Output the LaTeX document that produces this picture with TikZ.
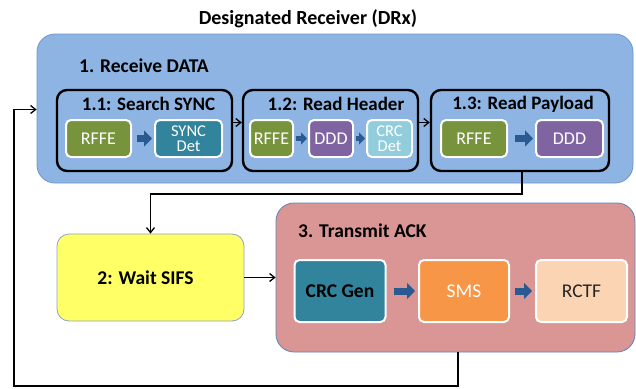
\documentclass[tikz,border=0pt]{standalone}
\usepackage{fontspec}
\setmainfont{Carlito}
\usetikzlibrary{arrows.meta,shadows}
\definecolor{rxblue}{HTML}{8DB4E2}
\definecolor{rxborder}{HTML}{6F95C8}
\definecolor{ackred}{HTML}{D99694}
\definecolor{ackborder}{HTML}{5B83BA}
\definecolor{waity}{HTML}{FFFF66}
\definecolor{waitborder}{HTML}{8EA2C0}
\definecolor{cgreen}{HTML}{77933C}
\definecolor{cteal}{HTML}{31849B}
\definecolor{cpurple}{HTML}{8064A2}
\definecolor{clight}{HTML}{92CDDC}
\definecolor{corange}{HTML}{F79646}
\definecolor{cpeach}{HTML}{FBD4B4}
\definecolor{arrblue}{HTML}{2A5A91}
\begin{document}
\begin{tikzpicture}[x=1pt,y=-1pt,
  bigbox/.style={rounded corners=18pt, line width=0.8pt, inner sep=0pt},
  subbox/.style={draw=black, line width=2.4pt, rounded corners=10pt, inner sep=0pt},
  blk/.style={draw=white, line width=2pt, rounded corners=5pt, inner sep=0pt,
    text=white, font=\fontsize{18}{18}\selectfont, align=center,
    drop shadow={shadow xshift=1pt, shadow yshift=-1pt, opacity=0.3}},
  big/.style={blk, font=\fontsize{19.5}{20}\selectfont},
  arr/.style={-{Straight Barb[length=5pt,width=8pt]}, line width=1.3pt},
  barr/.style={arrblue, line width=7pt, -{Triangle[length=8pt,width=16pt]}},
  lbl/.style={font=\bfseries\fontsize{19}{19}\selectfont, inner sep=0pt}
]
\useasboundingbox (0,0) rectangle (636,388);
\node[font=\bfseries\fontsize{20}{20}\selectfont, inner sep=0pt] (title) at (308,19) {Designated Receiver (DRx)};

% Receive DATA
\node[bigbox, draw=rxborder, fill=rxblue, minimum width=596pt, minimum height=149pt] (rx) at (335,108.5) {};
\node[lbl, anchor=west, font=\bfseries\fontsize{19.5}{19}\selectfont] (rxl) at (79,66) {1. Receive DATA};

\node[subbox, minimum width=175pt, minimum height=81pt] (p11) at (144.5,130.5) {};
\node[subbox, minimum width=175pt, minimum height=81pt] (p12) at (330.5,130.5) {};
\node[subbox, minimum width=178pt, minimum height=81pt] (p13) at (520,130.5) {};
\node[lbl] (l11) at (148.5,104) {1.1: Search SYNC};
\node[lbl] (l12) at (336,104) {1.2: Read Header};
\node[lbl] (l13) at (523,104) {1.3: Read Payload};

\node[blk, fill=cgreen, minimum width=65pt, minimum height=37pt] (r11) at (98.5,138.5) {RFFE};
\node[blk, fill=cteal, minimum width=67pt, minimum height=37pt, font=\fontsize{16.5}{15}\selectfont] (s11) at (188.5,138.5) {SYNC\\Det};
\node[blk, fill=cgreen, minimum width=43pt, minimum height=37pt] (r12) at (271.5,138.5) {RFFE};
\node[blk, fill=cpurple, minimum width=44pt, minimum height=37pt] (d12) at (331,138.5) {DDD};
\node[blk, fill=clight, minimum width=45pt, minimum height=37pt, font=\fontsize{16.5}{15}\selectfont] (c12) at (389.5,138.5) {CRC\\Det};
\node[blk, fill=cgreen, minimum width=66pt, minimum height=37pt] (r13) at (474,138.5) {RFFE};
\node[blk, fill=cpurple, minimum width=67pt, minimum height=37pt] (d13) at (569.5,138.5) {DDD};

\draw[barr] ([xshift=5pt]r11.east) -- ([xshift=-2pt]s11.west);
\draw[barr, line width=5pt, -{Triangle[length=6pt,width=12pt]}] ([xshift=2pt]r12.east) -- ([xshift=-1pt]d12.west);
\draw[barr, line width=5pt, -{Triangle[length=6pt,width=12pt]}] ([xshift=2pt]d12.east) -- ([xshift=-1pt]c12.west);
\draw[barr] ([xshift=7pt]r13.east) -- ([xshift=-2pt]d13.west);

\draw[arr] ([yshift=8pt]p11.east) -- ([yshift=8pt]p12.west);
\draw[arr] ([yshift=8pt]p12.east) -- ([yshift=8pt]p13.west);

% Wait SIFS
\node[draw=waitborder, fill=waity, line width=0.8pt, rounded corners=12pt, minimum width=187pt, minimum height=87pt, inner sep=0pt] (wait) at (150.5,277.5) {};
\node[lbl, font=\bfseries\fontsize{19.5}{19}\selectfont] (waitl) at (145.5,278) {2: Wait SIFS};

% Transmit ACK
\node[bigbox, draw=ackborder, fill=ackred, minimum width=359pt, minimum height=149pt] (ack) at (455.5,277.5) {};
\node[lbl, anchor=west, font=\bfseries\fontsize{19.5}{19}\selectfont] (ackl) at (298,231) {3. Transmit ACK};

\node[big, fill=cteal, minimum width=91pt, minimum height=62pt, text=black, font=\bfseries\fontsize{19.5}{20}\selectfont] (crc) at (340,291) {CRC Gen};
\node[big, fill=corange, minimum width=90pt, minimum height=62pt] (sms) at (464,291) {SMS};
\node[big, fill=cpeach, minimum width=91pt, minimum height=62pt, text=black!85] (rctf) at (581.5,291) {RCTF};
\draw[barr] ([xshift=7pt]crc.east) -- ([xshift=-3pt]sms.west);
\draw[barr] ([xshift=5pt]sms.east) -- ([xshift=-3pt]rctf.west);

% connectors
\draw[arr] (p13.south) ++(2pt,0) coordinate (p13o) -- (p13o |- 0,194) -| (wait.north);
\draw[arr] (wait.east) -- (wait.east -| ack.west);
\coordinate (lc) at (14,386);
\draw[arr] ([xshift=2.5pt]ack.south) |- (lc) |- ([yshift=-1pt]rx.west);
\end{tikzpicture}
\end{document}
